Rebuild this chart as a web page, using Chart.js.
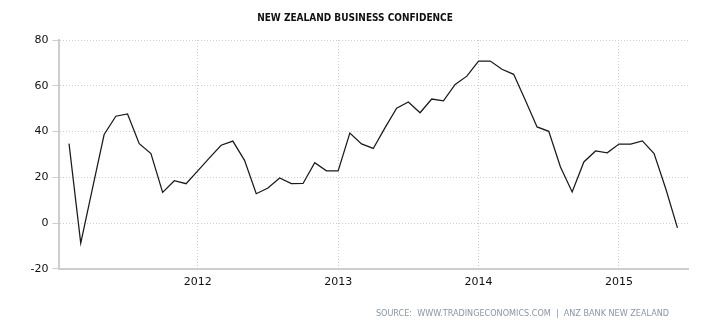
<!DOCTYPE html>
<html>
<head>
<meta charset="utf-8">
<script src="https://cdn.jsdelivr.net/npm/chart.js@4"></script>
<style>
  body { margin: 0; background: #fff; }
  #wrap { width: 710px; height: 325px; }
</style>
</head>
<body>
<div id="wrap"><canvas id="chart"></canvas></div>
<script>
// monthly readings, Feb 2011 - Jun 2015
var months = [
  "2011-02", "2011-03", "2011-04", "2011-05", "2011-06", "2011-07", "2011-08", "2011-09", "2011-10", "2011-11", "2011-12",
  "2012-01", "2012-02", "2012-03", "2012-04", "2012-05", "2012-06", "2012-07", "2012-08", "2012-09", "2012-10", "2012-11", "2012-12",
  "2013-01", "2013-02", "2013-03", "2013-04", "2013-05", "2013-06", "2013-07", "2013-08", "2013-09", "2013-10", "2013-11", "2013-12",
  "2014-01", "2014-02", "2014-03", "2014-04", "2014-05", "2014-06", "2014-07", "2014-08", "2014-09", "2014-10", "2014-11", "2014-12",
  "2015-01", "2015-02", "2015-03", "2015-04", "2015-05", "2015-06"
];
var confidence = [
  34.7, -8.8, 15.0, 38.7, 46.7, 47.7, 34.7, 30.4, 13.4, 18.5, 17.2,
  22.8, 28.5, 34.0, 35.8, 27.4, 12.8, 15.3, 19.7, 17.2, 17.3, 26.4, 22.8,
  22.8, 39.3, 34.6, 32.6, 41.6, 50.2, 52.9, 48.2, 54.2, 53.4, 60.6, 64.2,
  70.8, 70.8, 67.2, 65.0, 53.7, 42.0, 40.1, 24.5, 13.6, 26.7, 31.5, 30.7,
  34.5, 34.5, 35.9, 30.4, 15.0, -2.1
];
var yearTicks = [2012, 2013, 2014, 2015];
var yTicks = [-20, 0, 20, 40, 60, 80];

var firstYear = 2011;
function monthIndex(s) {
  var p = s.split("-");
  return (parseInt(p[0]) - firstYear) * 12 + parseInt(p[1]) - 1;
}

var points = months.map(function (m, i) {
  return { x: monthIndex(m), y: confidence[i] };
});

var gridColor = "#cdcdcd";
var sourceText = "SOURCE:  WWW.TRADINGECONOMICS.COM  |  ANZ BANK NEW ZEALAND";

// source line, bottom right
var sourcePlugin = {
  id: "source",
  afterDraw: function (chart) {
    var c = chart.ctx;
    c.save();
    c.font = "9px 'DejaVu Sans Condensed'";
    c.fillStyle = "#8a96a3";
    c.textAlign = "right";
    c.textBaseline = "middle";
    c.fillText(sourceText, 669, 314);
    c.restore();
  },
};

var ctx = document.getElementById("chart").getContext("2d");

new Chart(ctx, {
  type: "line",
  data: {
    datasets: [
      {
        label: "Business Confidence",
        data: points,
        borderColor: "#1a1a1a",
        borderWidth: 1.25,
        pointRadius: 0,
        tension: 0,
        fill: false,
      },
    ],
  },
  plugins: [sourcePlugin],
  options: {
    responsive: true,
    maintainAspectRatio: false,
    animation: false,
    layout: {
      padding: { left: 0, right: 0, top: 0, bottom: 29 },
    },
    plugins: {
      legend: { display: false },
      tooltip: { enabled: false },
      title: {
        display: true,
        text: "NEW ZEALAND BUSINESS CONFIDENCE",
        color: "#111",
        padding: { top: 12, bottom: 16 },
        font: { size: 10, weight: "bold", family: "DejaVu Sans Condensed" },
      },
    },
    scales: {
      x: {
        type: "linear",
        min: 0.1,
        max: 53.9,
        afterBuildTicks: function (scale) {
          scale.ticks = yearTicks.map(function (y) {
            return { value: (y - firstYear) * 12 };
          });
        },
        grid: {
          color: gridColor,
          drawTicks: false,
        },
        border: {
          display: true,
          color: gridColor,
          width: 2,
          dash: [1, 2],
        },
        ticks: {
          padding: 7,
          color: "#111",
          maxRotation: 0,
          font: { size: 11, family: "DejaVu Sans" },
          callback: function (value) {
            return String(firstYear + value / 12);
          },
        },
      },
      y: {
        min: -20,
        max: 80,
        afterBuildTicks: function (scale) {
          scale.ticks = yTicks.map(function (v) {
            return { value: v };
          });
        },
        afterFit: function (scale) {
          scale.width = 58.5;
        },
        grid: {
          color: gridColor,
          drawTicks: true,
          tickLength: 6,
          tickBorderDash: [0, 0],
        },
        border: {
          display: true,
          color: gridColor,
          width: 2,
          dash: [1, 2],
        },
        ticks: {
          padding: 4,
          color: "#111",
          font: { size: 11, family: "DejaVu Sans" },
        },
      },
      // empty right margin so the title stays centred on the page
      yRight: {
        position: "right",
        min: -20,
        max: 80,
        afterFit: function (scale) {
          scale.width = 22;
        },
        grid: { display: false },
        border: { display: false },
        ticks: { display: false },
      },
    },
  },
});
</script>
</body>
</html>
